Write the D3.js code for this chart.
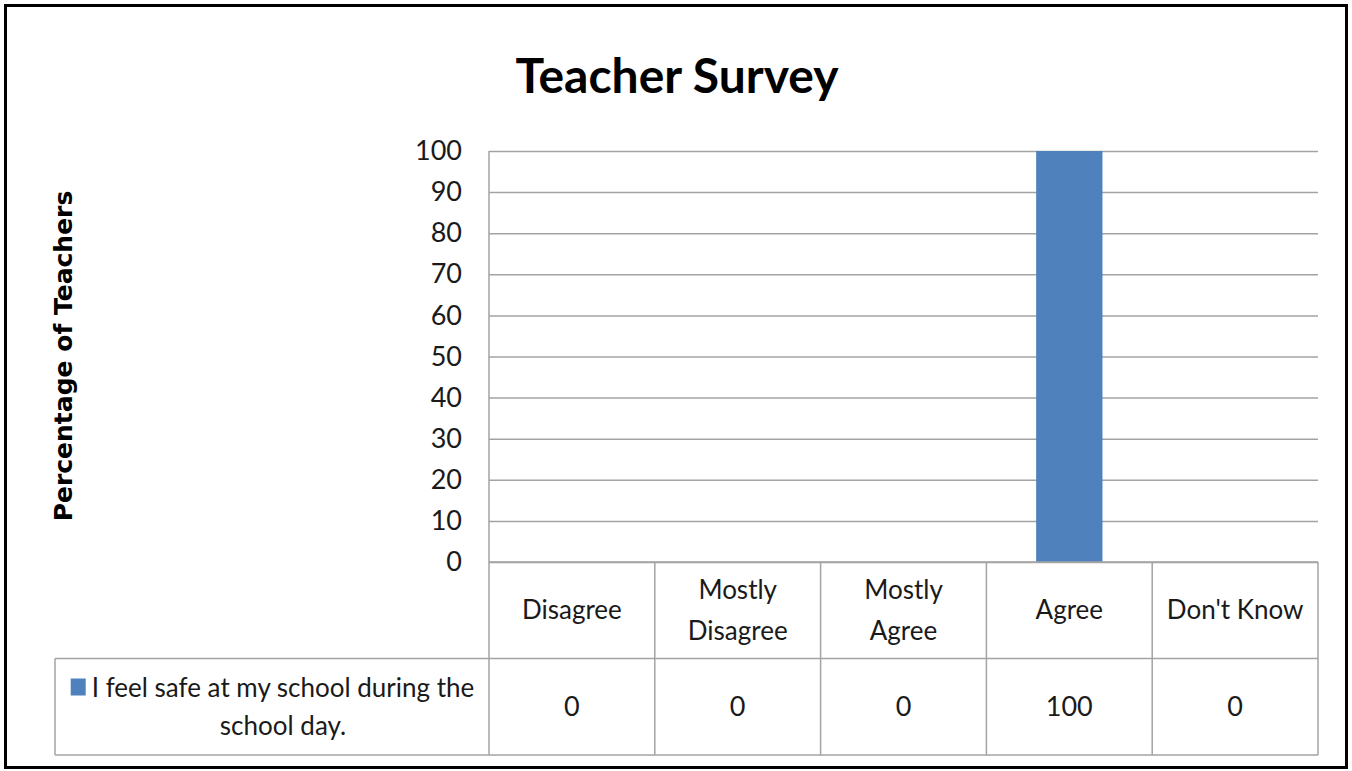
<!DOCTYPE html>
<html>
<head>
<meta charset="utf-8">
<script src="https://cdn.jsdelivr.net/npm/d3@7/dist/d3.min.js"></script>
<style>
	html, body { margin: 0; padding: 0; background: #fff; }
	svg { display: block; }
	text { font-family: Lato, "Open Sans", sans-serif; fill: #1a1a1a; }
</style>
</head>
<body>
<div id="chart"></div>
<script>
'use strict';

// chart data
var categories = ['Disagree', 'Mostly Disagree', 'Mostly Agree', 'Agree', "Don't Know"];
var categoryLines = [['Disagree'], ['Mostly', 'Disagree'], ['Mostly', 'Agree'], ['Agree'], ["Don't Know"]];
var values = [0, 0, 0, 100, 0];
var seriesName = ['I feel safe at my school during the', 'school day.'];
var yTicks = [0, 10, 20, 30, 40, 50, 60, 70, 80, 90, 100];
var title = 'Teacher Survey';
var yLabel = 'Percentage of Teachers';

var W = 1352, H = 771;
var plot = {left: 489, right: 1318, top: 151, bottom: 562};
var rowH = 96.5;
var tableLeft = 55;
var gridColor = '#a3a3a3';

var svg = d3.select('#chart').append('svg')
	.attr('width', W)
	.attr('height', H);

// outer frame
svg.append('rect')
	.attr('x', 5.5).attr('y', 5.5)
	.attr('width', 1341).attr('height', 762)
	.attr('fill', '#fff')
	.attr('stroke', '#000')
	.attr('stroke-width', 3);

var xScale = d3.scaleBand()
	.domain(categories)
	.range([plot.left, plot.right])
	.paddingInner(0).paddingOuter(0);

var yScale = d3.scaleLinear()
	.domain([0, 100])
	.range([plot.bottom, plot.top]);

// grid
var yGrid = d3.axisLeft(yScale)
	.tickValues(yTicks)
	.tickSize(-(plot.right - plot.left))
	.tickFormat('');
svg.append('g')
	.attr('class', 'grid')
	.attr('transform', 'translate(' + plot.left + ',0)')
	.call(yGrid)
	.call(function(g) {
		g.select('.domain').remove();
		g.selectAll('line').attr('stroke', gridColor).attr('stroke-width', 1.5);
	});

// bars
var bw = xScale.bandwidth() / 2.5;
svg.append('g')
	.selectAll('rect')
	.data(values)
	.enter().append('rect')
		.attr('x', function(d, i) { return xScale(categories[i]) + (xScale.bandwidth() - bw) / 2; })
		.attr('y', function(d) { return yScale(d); })
		.attr('width', bw)
		.attr('height', function(d) { return yScale(0) - yScale(d); })
		.attr('fill', '#4f81bd');

// y axis labels
var yAxis = d3.axisLeft(yScale)
	.tickValues(yTicks)
	.tickSize(0)
	.tickPadding(27);
svg.append('g')
	.attr('transform', 'translate(' + plot.left + ',0)')
	.call(yAxis)
	.call(function(g) {
		g.select('.domain').remove();
		g.selectAll('text')
			.style('font-family', 'Lato, sans-serif')
			.attr('font-size', 27)
			.style('fill', '#1a1a1a');
	});

// data table
var t = svg.append('g').attr('class', 'table');
var row1 = plot.bottom, row2 = plot.bottom + rowH, row3 = plot.bottom + 2 * rowH;

function hline(x1, x2, y) {
	t.append('line').attr('x1', x1).attr('x2', x2).attr('y1', y).attr('y2', y)
		.attr('stroke', gridColor).attr('stroke-width', 1.5);
}
function vline(x, y1, y2) {
	t.append('line').attr('x1', x).attr('x2', x).attr('y1', y1).attr('y2', y2)
		.attr('stroke', gridColor).attr('stroke-width', 1.5);
}
hline(plot.left, plot.right, row1);
hline(tableLeft, plot.right, row2);
hline(tableLeft, plot.right, row3);
vline(tableLeft, row2, row3);
vline(plot.left, plot.top, row3);
categories.forEach(function(c) {
	vline(xScale(c) + xScale.bandwidth(), row1, row3);
});

// header cells
categories.forEach(function(c, i) {
	var lines = categoryLines[i];
	var cx = xScale(c) + xScale.bandwidth() / 2;
	var lh = 41;
	var y0 = (row1 + row2) / 2 - (lines.length - 1) * lh / 2;
	lines.forEach(function(s, k) {
		t.append('text')
			.attr('x', cx)
			.attr('y', y0 + k * lh)
			.attr('dy', '0.35em')
			.attr('text-anchor', 'middle')
			.attr('font-size', 26)
			.text(s);
	});
	t.append('text')
		.attr('x', cx)
		.attr('y', (row2 + row3) / 2)
		.attr('dy', '0.35em')
		.attr('text-anchor', 'middle')
		.attr('font-size', 27)
		.text(values[i]);
});

// legend cell
var legendCx = 283;
var l1 = t.append('text')
	.attr('x', legendCx)
	.attr('y', row2 + 29)
	.attr('dy', '0.35em')
	.attr('text-anchor', 'middle')
	.attr('font-size', 26)
	.text(seriesName[0]);
var bb = l1.node().getBBox();
t.append('rect')
	.attr('x', bb.x - 21)
	.attr('y', row2 + 20)
	.attr('width', 15)
	.attr('height', 17)
	.attr('fill', '#4f81bd');
t.append('text')
	.attr('x', legendCx)
	.attr('y', row2 + 67)
	.attr('dy', '0.35em')
	.attr('text-anchor', 'middle')
	.attr('font-size', 26)
	.text(seriesName[1]);

// title
svg.append('text')
	.attr('x', 677)
	.attr('y', 93)
	.attr('text-anchor', 'middle')
	.attr('font-size', 48)
	.attr('font-weight', 'bold')
	.style('fill', '#000')
	.text(title);

// y axis title
svg.append('text')
	.attr('transform', 'translate(72,356) rotate(-90)')
	.attr('text-anchor', 'middle')
	.style('font-family', '"DejaVu Sans", sans-serif')
	.attr('font-size', 25)
	.attr('font-weight', 'bold')
	.style('fill', '#000')
	.text(yLabel);
</script>
</body>
</html>
